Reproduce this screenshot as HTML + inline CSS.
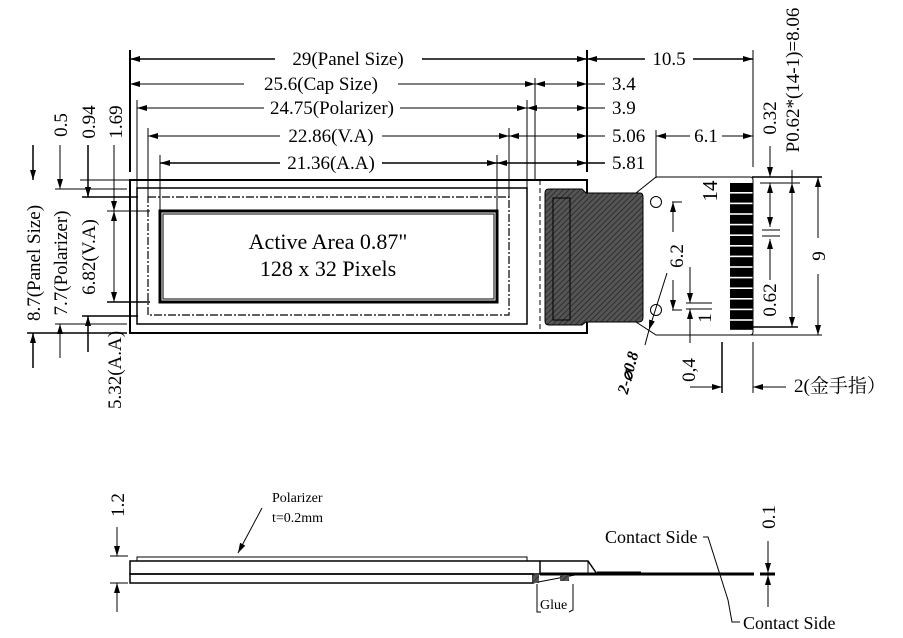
<!DOCTYPE html>
<html><head><meta charset="utf-8"><style>
html,body{margin:0;padding:0;background:#fff;}
svg{display:block;font-family:"Liberation Serif","Noto Serif CJK SC",serif;}
</style></head><body>
<svg width="903" height="638" viewBox="0 0 903 638" xmlns="http://www.w3.org/2000/svg">
<defs>
<marker id="a" viewBox="0 0 10 6" refX="10" refY="3" markerWidth="10" markerHeight="6" orient="auto-start-reverse" markerUnits="userSpaceOnUse"><path d="M0,0L10,3L0,6z" fill="#000"/></marker>
<pattern id="h" width="4" height="4" patternUnits="userSpaceOnUse" patternTransform="rotate(45)"><rect width="4" height="4" fill="#555"/><line x1="0" y1="0" x2="0" y2="4" stroke="#222" stroke-width="1.5"/></pattern>
</defs>
<g stroke="#000" fill="none" stroke-width="1">
<line x1="130" y1="50" x2="130" y2="172" stroke-width="2"/>
<line x1="137" y1="100" x2="137" y2="188"/>
<line x1="148" y1="128" x2="148" y2="197"/>
<line x1="160" y1="155" x2="160" y2="211"/>
<line x1="587" y1="50" x2="587" y2="172" stroke-width="2"/>
<line x1="535" y1="78" x2="535" y2="180"/>
<line x1="527" y1="100" x2="527" y2="188"/>
<line x1="509" y1="128" x2="509" y2="197"/>
<line x1="497" y1="155" x2="497" y2="211"/>
<line x1="753" y1="50" x2="753" y2="167"/>
<line x1="656" y1="130" x2="656" y2="178"/>

<line x1="130" y1="59" x2="275" y2="59" stroke-width="1.5" marker-start="url(#a)"/>
<line x1="422" y1="59" x2="587" y2="59" stroke-width="1.5" marker-end="url(#a)"/>
<line x1="587" y1="59" x2="645" y2="59" stroke-width="1.5" marker-start="url(#a)"/>
<line x1="693" y1="59" x2="753" y2="59" stroke-width="1.5" marker-end="url(#a)"/>

<line x1="130" y1="84" x2="244" y2="84" marker-start="url(#a)"/>
<line x1="398" y1="84" x2="535" y2="84" marker-end="url(#a)"/>
<line x1="535" y1="84" x2="587" y2="84" marker-start="url(#a)" marker-end="url(#a)"/>
<line x1="587" y1="84" x2="605" y2="84"/>

<line x1="137" y1="108" x2="264" y2="108" marker-start="url(#a)"/>
<line x1="400" y1="108" x2="527" y2="108" marker-end="url(#a)"/>
<line x1="527" y1="108" x2="587" y2="108" marker-start="url(#a)" marker-end="url(#a)"/>
<line x1="587" y1="108" x2="605" y2="108"/>

<line x1="148" y1="136" x2="280" y2="136" marker-start="url(#a)"/>
<line x1="382" y1="136" x2="509" y2="136" marker-end="url(#a)"/>
<line x1="509" y1="136" x2="587" y2="136" marker-start="url(#a)" marker-end="url(#a)"/>
<line x1="587" y1="136" x2="605" y2="136"/>
<line x1="656" y1="136" x2="690" y2="136" marker-start="url(#a)"/>
<line x1="722" y1="136" x2="753" y2="136" marker-end="url(#a)"/>

<line x1="160" y1="163" x2="280" y2="163" stroke-width="1.5" marker-start="url(#a)"/>
<line x1="382" y1="163" x2="497" y2="163" stroke-width="1.5" marker-end="url(#a)"/>
<line x1="497" y1="163" x2="587" y2="163" stroke-width="1.5" marker-start="url(#a)" marker-end="url(#a)"/>
<line x1="587" y1="163" x2="605" y2="163" stroke-width="1.5"/>

<rect x="130" y="180" width="457" height="153" stroke-width="2"/>
<rect x="137" y="188" width="390" height="136" stroke-width="1.5"/>
<rect x="148" y="197" width="361" height="118" stroke-dasharray="8,2,2,2" stroke-width="1.2"/>
<rect x="160" y="211" width="337" height="91" stroke-width="3"/>
<rect x="163" y="214" width="331" height="85" stroke-width="1"/>
<line x1="540" y1="180" x2="540" y2="333" stroke-dasharray="5,3"/>
<path d="M549,189 L582,189 L586,193 L640,193 Q643,193 643,197 L643,317 Q643,322 639,322 L586,322 L582,325 L549,325 Q545,325 545,321 L545,193 Q545,189 549,189z" fill="url(#h)" stroke-width="1"/>
<rect x="553" y="198" width="17" height="122" stroke-width="1"/>
<path d="M587,193 L636,193 L656,177 L750,177 Q753,177 753,180 L753,332 Q753,335 750,335 L656,335 L636,322 L587,322" stroke-width="1"/>
<circle cx="656" cy="202" r="5.5"/>
<circle cx="656" cy="310" r="5.5"/>
<line x1="752" y1="177" x2="822" y2="177" stroke-width="1.5"/>
<line x1="725" y1="335" x2="822" y2="335"/>
<line x1="760" y1="183" x2="800" y2="183"/>
<line x1="740" y1="327" x2="798" y2="327" stroke-width="1.5"/>
<line x1="770" y1="146" x2="770" y2="177" marker-end="url(#a)"/>
<line x1="770" y1="183" x2="770" y2="227" marker-start="url(#a)" marker-end="url(#a)"/>
<line x1="770" y1="239" x2="770" y2="280" marker-start="url(#a)"/>
<line x1="762" y1="230" x2="780" y2="230"/>
<line x1="762" y1="236" x2="780" y2="236"/>
<line x1="792" y1="170" x2="792" y2="183"/>
<line x1="792" y1="183" x2="792" y2="327" marker-start="url(#a)" marker-end="url(#a)"/>
<line x1="818" y1="177" x2="818" y2="238" marker-start="url(#a)"/>
<line x1="818" y1="274" x2="818" y2="335" marker-end="url(#a)"/>
<line x1="672" y1="202" x2="682" y2="202"/>
<line x1="672" y1="310" x2="682" y2="310"/>
<line x1="673" y1="202" x2="673" y2="232" marker-start="url(#a)"/>
<line x1="673" y1="280" x2="673" y2="310" marker-end="url(#a)"/>
<line x1="686" y1="303" x2="712" y2="303"/>
<line x1="686" y1="309" x2="712" y2="309"/>
<line x1="690" y1="267" x2="690" y2="303" marker-end="url(#a)"/>
<line x1="690" y1="309" x2="690" y2="343" marker-start="url(#a)"/>
<line x1="722" y1="342" x2="722" y2="393" stroke-width="1.5"/>
<line x1="753" y1="342" x2="753" y2="393"/>
<line x1="690" y1="387" x2="722" y2="387" marker-end="url(#a)"/>
<line x1="786" y1="387" x2="753" y2="387" marker-end="url(#a)"/>
<line x1="667" y1="273" x2="649" y2="330" marker-end="url(#a)"/>
<line x1="649" y1="330" x2="645" y2="345"/>

<line x1="80" y1="180" x2="380" y2="180" stroke-width="1"/>
<line x1="55" y1="189" x2="127" y2="189"/>
<line x1="82" y1="197" x2="138" y2="197" stroke-width="1.5"/>
<line x1="107" y1="211" x2="150" y2="211"/>
<line x1="107" y1="302" x2="150" y2="302" stroke-width="1.5"/>
<line x1="82" y1="316" x2="138" y2="316" stroke-width="1.5"/>
<line x1="55" y1="324" x2="127" y2="324"/>
<line x1="27" y1="333" x2="127" y2="333" stroke-width="1.5"/>
<line x1="33" y1="145" x2="33" y2="180" stroke-width="1.5" marker-end="url(#a)"/>
<line x1="33" y1="333" x2="33" y2="368" stroke-width="1.5" marker-start="url(#a)"/>
<line x1="60" y1="145" x2="60" y2="189" marker-end="url(#a)"/>
<line x1="60" y1="324" x2="60" y2="358" marker-start="url(#a)"/>
<line x1="88" y1="145" x2="88" y2="197" stroke-width="1.5" marker-end="url(#a)"/>
<line x1="88" y1="316" x2="88" y2="352" stroke-width="1.5" marker-start="url(#a)"/>
<line x1="114" y1="145" x2="114" y2="211" marker-end="url(#a)"/>
<line x1="114" y1="211" x2="114" y2="302" marker-start="url(#a)" marker-end="url(#a)"/>

<rect x="137" y="557" width="390" height="4"/>
<rect x="130" y="561" width="410" height="13" stroke-width="1.5"/>
<rect x="130" y="574" width="403" height="9" stroke-width="1.5"/>
<path d="M533,583 L575,575" stroke-width="1"/>
<path d="M540,561 L588,561 L597,574" stroke-width="1.5"/>
<line x1="588" y1="561" x2="588" y2="574"/>
<line x1="540" y1="574" x2="754" y2="574" stroke-width="3"/>
<line x1="597" y1="572" x2="641" y2="572" stroke-width="1"/>
<rect x="533" y="575" width="6" height="8" fill="url(#h)" stroke="none"/>
<rect x="560" y="575" width="9" height="6" fill="url(#h)" stroke="none"/>
<line x1="262" y1="508" x2="238" y2="553" marker-end="url(#a)"/>
<line x1="110" y1="556" x2="128" y2="556"/>
<line x1="110" y1="583" x2="128" y2="583"/>
<line x1="117" y1="527" x2="117" y2="556" marker-end="url(#a)"/>
<line x1="117" y1="583" x2="117" y2="612" marker-start="url(#a)"/>
<line x1="760" y1="574" x2="775" y2="574" stroke-width="3"/>
<line x1="768" y1="541" x2="768" y2="573" marker-end="url(#a)"/>
<line x1="768" y1="575" x2="768" y2="607" marker-start="url(#a)"/>
<path d="M703,537 L708,537 L728,600 L732,622 L740,622"/>
<path d="M537,584 L537,612 L541,612"/>
<path d="M573,584 L573,610 L569,612"/>
</g>
<g fill="#000">
<rect x="730" y="183" width="23" height="9"/><rect x="730" y="193.6" width="23" height="9"/><rect x="730" y="204.2" width="23" height="9"/><rect x="730" y="214.8" width="23" height="9"/><rect x="730" y="225.4" width="23" height="9"/><rect x="730" y="236" width="23" height="9"/><rect x="730" y="246.6" width="23" height="9"/><rect x="730" y="257.2" width="23" height="9"/><rect x="730" y="267.8" width="23" height="9"/><rect x="730" y="278.4" width="23" height="9"/><rect x="730" y="289" width="23" height="9"/><rect x="730" y="299.6" width="23" height="9"/><rect x="730" y="310.2" width="23" height="9"/><rect x="730" y="320.8" width="23" height="9"/>
</g>
<g fill="#000" font-size="19">
<text x="348" y="65" text-anchor="middle">29(Panel Size)</text>
<text x="321" y="90" text-anchor="middle">25.6(Cap Size)</text>
<text x="332" y="114" text-anchor="middle">24.75(Polarizer)</text>
<text x="331" y="142" text-anchor="middle">22.86(V.A)</text>
<text x="331" y="169" text-anchor="middle">21.36(A.A)</text>
<text x="669" y="65" text-anchor="middle">10.5</text>
<text x="612" y="90">3.4</text>
<text x="612" y="114">3.9</text>
<text x="612" y="142">5.06</text>
<text x="612" y="169">5.81</text>
<text x="706" y="142" text-anchor="middle">6.1</text>
<text x="328" y="249" text-anchor="middle" font-size="22">Active Area 0.87"</text>
<text x="328" y="276" text-anchor="middle" font-size="22">128 x 32 Pixels</text>
<text transform="translate(40,263) rotate(-90)" text-anchor="middle">8.7(Panel Size)</text>
<text transform="translate(67,263) rotate(-90)" text-anchor="middle">7.7(Polarizer)</text>
<text transform="translate(95,257) rotate(-90)" text-anchor="middle">6.82(V.A)</text>
<text transform="translate(121,370) rotate(-90)" text-anchor="middle">5.32(A.A)</text>
<text transform="translate(67,125) rotate(-90)" text-anchor="middle">0.5</text>
<text transform="translate(95,122) rotate(-90)" text-anchor="middle">0.94</text>
<text transform="translate(122,122) rotate(-90)" text-anchor="middle">1.69</text>
<text transform="translate(776,118) rotate(-90)" text-anchor="middle">0.32</text>
<text transform="translate(799,80) rotate(-90)" text-anchor="middle">P0.62*(14-1)=8.06</text>
<text transform="translate(776,300) rotate(-90)" text-anchor="middle">0.62</text>
<text transform="translate(825,256) rotate(-90)" text-anchor="middle">9</text>
<text transform="translate(717,191) rotate(-90)" text-anchor="middle" font-size="21">14</text>
<text transform="translate(683,256) rotate(-90)" text-anchor="middle">6.2</text>
<text transform="translate(711,318) rotate(-90)" text-anchor="middle">1</text>
<text transform="translate(695,370) rotate(-90)" text-anchor="middle">0,4</text>
<text transform="translate(633,374) rotate(-75)" text-anchor="middle" font-style="italic" font-weight="bold" font-size="16">2-⌀0.8</text>
<text x="794" y="392">2(金手指）</text>
<text transform="translate(124,505) rotate(-90)" text-anchor="middle">1.2</text>
<text transform="translate(775,517) rotate(-90)" text-anchor="middle">0.1</text>
<text x="272" y="502" font-size="14">Polarizer</text>
<text x="272" y="522" font-size="14">t=0.2mm</text>
<text x="605" y="543" font-size="18">Contact Side</text>
<text x="743" y="629" font-size="18">Contact Side</text>
<text x="540" y="609" font-size="14">Glue</text>
</g>
</svg>
</body></html>
